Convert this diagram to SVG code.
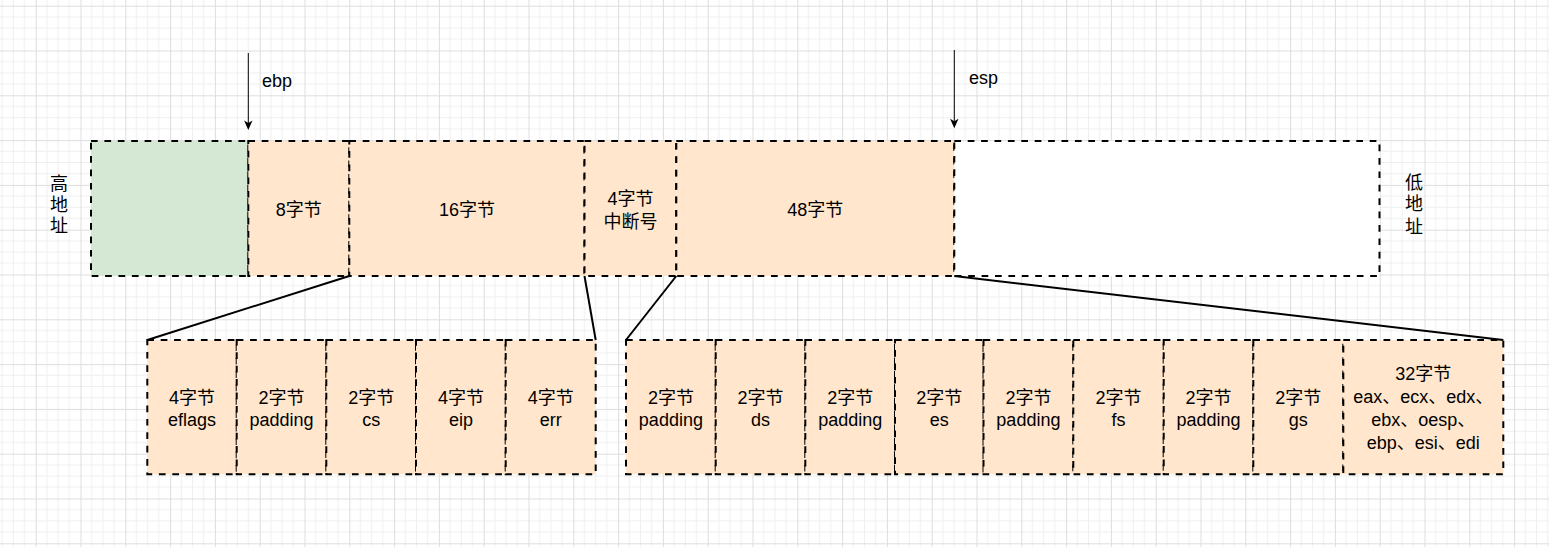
<svg xmlns="http://www.w3.org/2000/svg" width="1549" height="547" viewBox="0 0 1549 547">
<style>
.box{stroke:#000;stroke-width:2;stroke-dasharray:6.7 6.7}
.g{fill:#d5e8d4}
.o{fill:#ffe6cc}
.w{fill:#fff}
text{font-family:"Liberation Sans","Noto Sans CJK SC",sans-serif;font-size:18px;fill:#000}
.c{text-anchor:middle}
.conn{stroke:#000;stroke-width:2;fill:none}
.ptr{stroke:#000;stroke-width:1;fill:none}
</style>
<defs>
<pattern id="grid" x="35.7" y="5.7" width="44.8" height="44.8" patternUnits="userSpaceOnUse">
<path d="M11.2 0V44.8M22.4 0V44.8M33.6 0V44.8M0 11.2H44.8M0 22.4H44.8M0 33.6H44.8" stroke="#efefef" stroke-width="1" fill="none"/>
<path d="M0.5 0V44.8M0 0.5H44.8" stroke="#dedede" stroke-width="1" fill="none"/>
</pattern>
</defs>
<rect x="0" y="0" width="1549" height="547" fill="#fff"/>
<rect x="0" y="0" width="1549" height="547" fill="url(#grid)"/>

<g id="label-high">
<text class="c" x="59" y="189.5">高</text>
<text class="c" x="59" y="211">地</text>
<text class="c" x="59" y="232">址</text>
</g>
<g id="label-low">
<text class="c" x="1414" y="188.5">低</text>
<text class="c" x="1414" y="210">地</text>
<text class="c" x="1414" y="232.5">址</text>
</g>

<g id="ebp">
<line class="ptr" x1="248.3" y1="53" x2="248.3" y2="123"/>
<path d="M248.3 130L244.1 120.5L248.3 123L252.5 120.5Z" fill="#000"/>
<text x="262" y="87">ebp</text>
</g>
<g id="esp">
<line class="ptr" x1="954.3" y1="50" x2="954.3" y2="121"/>
<path d="M954.3 128.3L950.1 118.8L954.3 121.3L958.5 118.8Z" fill="#000"/>
<text x="969" y="84">esp</text>
</g>

<g id="main-green"><rect class="box g" x="91" y="141" width="157.3" height="135"/></g>
<g id="main-8"><rect class="box o" x="248.3" y="141" width="101" height="135"/><text class="c" x="298.8" y="216">8字节</text></g>
<g id="main-16"><rect class="box o" x="349.3" y="141" width="235.2" height="135"/><text class="c" x="466.9" y="216">16字节</text></g>
<g id="main-4"><rect class="box o" x="584.5" y="141" width="91.8" height="135"/><text class="c" x="630.4" y="205">4字节</text><text class="c" x="630.4" y="228">中断号</text></g>
<g id="main-48"><rect class="box o" x="676.3" y="141" width="278" height="135"/><text class="c" x="815.3" y="216">48字节</text></g>
<g id="main-white"><rect class="box w" x="954.3" y="141" width="425.2" height="135"/></g>

<g id="b-eflags"><rect class="box o" x="147.3" y="340" width="89.4" height="134.3"/><text class="c" x="192" y="404">4字节</text><text class="c" x="192" y="426">eflags</text></g>
<g id="b-pad1"><rect class="box o" x="236.7" y="340" width="89.6" height="134.3"/><text class="c" x="281.5" y="404">2字节</text><text class="c" x="281.5" y="426">padding</text></g>
<g id="b-cs"><rect class="box o" x="326.3" y="340" width="89.7" height="134.3"/><text class="c" x="371.2" y="404">2字节</text><text class="c" x="371.2" y="426">cs</text></g>
<g id="b-eip"><rect class="box o" x="416" y="340" width="89.7" height="134.3"/><text class="c" x="460.9" y="404">4字节</text><text class="c" x="460.9" y="426">eip</text></g>
<g id="b-err"><rect class="box o" x="505.7" y="340" width="90" height="134.3"/><text class="c" x="550.7" y="404">4字节</text><text class="c" x="550.7" y="426">err</text></g>

<g id="b-pad2"><rect class="box o" x="626" y="340" width="89.7" height="134.3"/><text class="c" x="670.9" y="404">2字节</text><text class="c" x="670.9" y="426">padding</text></g>
<g id="b-ds"><rect class="box o" x="715.7" y="340" width="89.6" height="134.3"/><text class="c" x="760.5" y="404">2字节</text><text class="c" x="760.5" y="426">ds</text></g>
<g id="b-pad3"><rect class="box o" x="805.3" y="340" width="89.7" height="134.3"/><text class="c" x="850.2" y="404">2字节</text><text class="c" x="850.2" y="426">padding</text></g>
<g id="b-es"><rect class="box o" x="895" y="340" width="88.5" height="134.3"/><text class="c" x="939.3" y="404">2字节</text><text class="c" x="939.3" y="426">es</text></g>
<g id="b-pad4"><rect class="box o" x="983.5" y="340" width="89.8" height="134.3"/><text class="c" x="1028.4" y="404">2字节</text><text class="c" x="1028.4" y="426">padding</text></g>
<g id="b-fs"><rect class="box o" x="1073.3" y="340" width="90.4" height="134.3"/><text class="c" x="1118.5" y="404">2字节</text><text class="c" x="1118.5" y="426">fs</text></g>
<g id="b-pad5"><rect class="box o" x="1163.7" y="340" width="89.6" height="134.3"/><text class="c" x="1208.5" y="404">2字节</text><text class="c" x="1208.5" y="426">padding</text></g>
<g id="b-gs"><rect class="box o" x="1253.3" y="340" width="90" height="134.3"/><text class="c" x="1298.3" y="404">2字节</text><text class="c" x="1298.3" y="426">gs</text></g>
<g id="b-regs"><rect class="box o" x="1343.3" y="340" width="160" height="134.3"/>
<text class="c" x="1423.3" y="380">32字节</text>
<text class="c" x="1423.3" y="403">eax、ecx、edx、</text>
<text class="c" x="1423.3" y="426">ebx、oesp、</text>
<text class="c" x="1423.3" y="449">ebp、esi、edi</text>
</g>

<g id="connectors">
<line class="conn" x1="349.3" y1="276" x2="147.3" y2="340"/>
<line class="conn" x1="584.5" y1="276" x2="595.7" y2="340"/>
<line class="conn" x1="676.3" y1="276" x2="626" y2="340"/>
<line class="conn" x1="954.3" y1="276" x2="1503.3" y2="340"/>
</g>
</svg>
